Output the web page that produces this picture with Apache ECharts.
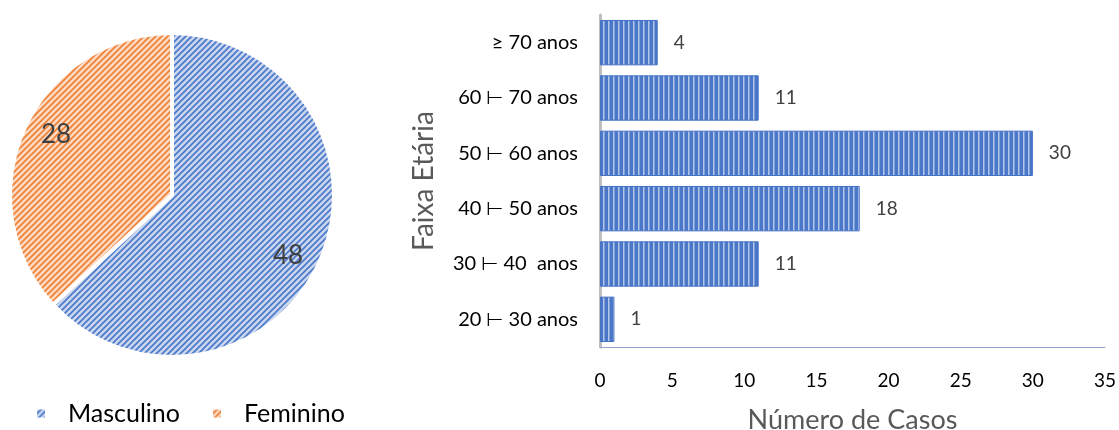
<!DOCTYPE html>
<html>
<head>
<meta charset="utf-8">
<script src="https://cdn.jsdelivr.net/npm/echarts@6/dist/echarts.min.js"></script>
<style>
  html, body { margin: 0; padding: 0; background: #fff; }
  #chart { width: 1119px; height: 430px; }
</style>
</head>
<body>
<div id="chart"></div>
<script>
// Sex distribution (pie)
const sexLabels = ['Masculino', 'Feminino'];
const sexValues = [48, 28];

// Age bands (bar), bottom to top
const ageBands = ['20 ⊢ 30 anos', '30 ⊢ 40  anos', '40 ⊢ 50 anos', '50 ⊢ 60 anos', '60 ⊢ 70 anos', '≥ 70 anos'];
const ageCounts = [1, 11, 18, 30, 11, 4];

const xTicks = [0, 5, 10, 15, 20, 25, 30, 35];

const FONT = 'Lato, "Open Sans", sans-serif';

// Diagonal hatch tile for pie slices
function diagTile(bg, fg) {
  const c = document.createElement('canvas');
  c.width = 6; c.height = 6;
  const g = c.getContext('2d');
  g.fillStyle = bg; g.fillRect(0, 0, 6, 6);
  g.strokeStyle = fg; g.lineWidth = 1.6;
  g.beginPath();
  g.moveTo(-1, 7); g.lineTo(7, -1);
  g.moveTo(-1, 1); g.lineTo(1, -1);
  g.moveTo(5, 7); g.lineTo(7, 5);
  g.stroke();
  return { image: c, repeat: 'repeat' };
}

// Vertical stripe tile for bars
function vertTile(bg, fg) {
  const c = document.createElement('canvas');
  c.width = 5; c.height = 4;
  const g = c.getContext('2d');
  g.fillStyle = bg; g.fillRect(0, 0, 5, 4);
  g.fillStyle = fg; g.fillRect(3, 0, 1.5, 4);
  return { image: c, repeat: 'repeat' };
}

const bluePie = diagTile('#c9d6f0', '#4a77c8');
const orangePie = diagTile('#fbd9c2', '#ee7f33');
const blueBar = vertTile('#4a77c8', '#b4c7ea');

const PIE_CENTER = [172, 195];
const PIE_R = 162;

const chart = echarts.init(document.getElementById('chart'), null, { renderer: 'canvas' });

chart.setOption({
  backgroundColor: '#ffffff',
  animation: false,
  textStyle: { fontFamily: FONT },
  legend: {
    data: sexLabels,
    left: 30,
    top: 396,
    icon: 'rect',
    itemWidth: 10,
    itemHeight: 10,
    itemGap: 31,
    textStyle: { fontFamily: FONT, fontSize: 25, color: '#000', padding: [0, 0, 0, 17] }
  },
  grid: { left: 600, right: 14, top: 15, bottom: 83, containLabel: false, outerBoundsMode: 'none' },
  xAxis: {
    type: 'value',
    min: 0, max: 35, interval: 5,
    name: 'Número de Casos',
    nameLocation: 'middle',
    nameGap: 60,
    nameTextStyle: { fontFamily: FONT, fontSize: 27, color: '#595959' },
    axisLine: { show: true, lineStyle: { color: '#8ea6cf', width: 1 } },
    axisTick: { show: false },
    splitLine: { show: false },
    axisLabel: {
      fontFamily: FONT, fontSize: 19, color: '#000', margin: 24,
      formatter: v => xTicks.includes(v) ? String(v) : ''
    }
  },
  yAxis: {
    type: 'category',
    data: ageBands,
    name: 'Faixa Etária',
    nameLocation: 'middle',
    nameRotate: 90,
    nameGap: 162,
    nameTextStyle: { fontFamily: FONT, fontSize: 28, color: '#595959' },
    axisLine: { show: true, lineStyle: { color: '#bfbfbf', width: 3 } },
    axisTick: { show: false },
    axisLabel: { fontFamily: FONT, fontSize: 20, color: '#000', margin: 22 }
  },
  series: [
    {
      type: 'pie',
      center: PIE_CENTER,
      radius: PIE_R,
      startAngle: 90,
      clockwise: true,
      data: sexLabels.map((n, i) => ({
        name: n,
        value: sexValues[i],
        itemStyle: { color: i === 0 ? bluePie : orangePie }
      })),
      itemStyle: { borderColor: '#ffffff', borderWidth: 4 },
      label: { show: false },
      labelLine: { show: false },
      emphasis: { disabled: true }
    },
    {
      // transparent ring that carries the slice value labels toward the rim
      type: 'pie',
      center: PIE_CENTER,
      radius: [94, PIE_R],
      startAngle: 86,
      clockwise: true,
      silent: true,
      data: sexLabels.map((n, i) => ({ name: n, value: sexValues[i] })),
      itemStyle: { color: 'rgba(0,0,0,0)', borderWidth: 0 },
      label: {
        show: true,
        position: 'inside',
        formatter: '{c}',
        fontFamily: FONT,
        fontSize: 26,
        color: '#404040'
      },
      labelLine: { show: false },
      emphasis: { disabled: true }
    },
    {
      type: 'bar',
      data: ageCounts,
      barCategoryGap: '18%',
      itemStyle: { color: blueBar, borderColor: '#4472c4', borderWidth: 1 },
      label: {
        show: true,
        position: 'right',
        distance: 16,
        fontFamily: FONT,
        fontSize: 19,
        color: '#404040'
      },
      emphasis: { disabled: true }
    }
  ]
});
</script>
</body>
</html>
